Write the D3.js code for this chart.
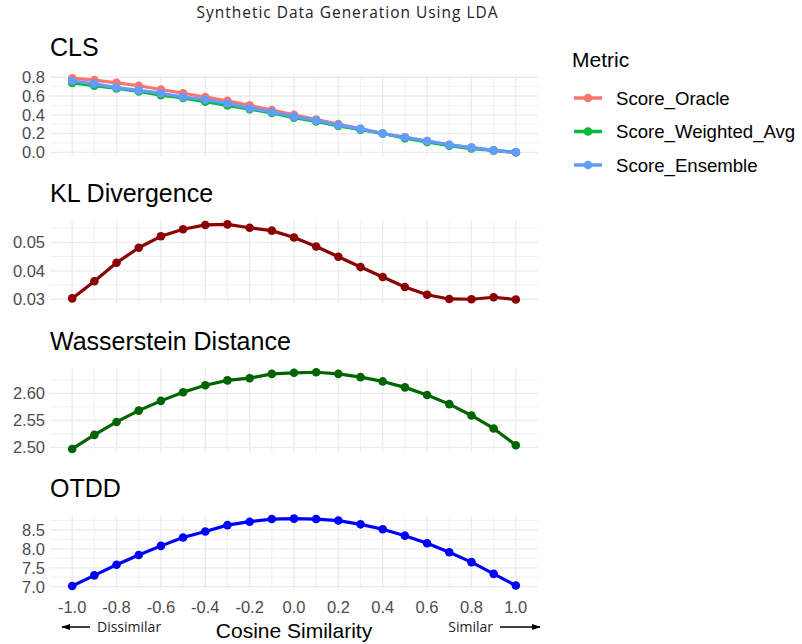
<!DOCTYPE html>
<html>
<head>
<meta charset="utf-8">
<script src="https://cdn.jsdelivr.net/npm/d3@7"></script>
<style>
  body { margin: 0; background: #fff; }
  svg { font-family: "Liberation Sans", Arial, sans-serif; }
</style>
</head>
<body>
<div id="vis"></div>
<script>
// frame
const WIDTH = 802;
const HEIGHT = 644;
const PLOT = {left: 50, right: 538};

// data
const cosine = [-1.0, -0.9, -0.8, -0.7, -0.6, -0.5, -0.4, -0.3, -0.2, -0.1, 0.0,
                0.1, 0.2, 0.3, 0.4, 0.5, 0.6, 0.7, 0.8, 0.9, 1.0];
const scoreOracle   = [0.79, 0.77, 0.74, 0.71, 0.67, 0.63, 0.59, 0.55, 0.50, 0.45, 0.40,
                       0.35, 0.30, 0.25, 0.20, 0.16, 0.12, 0.08, 0.05, 0.02, 0.00];
const scoreWeighted = [0.74, 0.71, 0.68, 0.65, 0.61, 0.58, 0.54, 0.50, 0.46, 0.42, 0.37,
                       0.33, 0.28, 0.24, 0.20, 0.15, 0.11, 0.07, 0.04, 0.02, 0.00];
const scoreEnsemble = [0.76, 0.73, 0.69, 0.66, 0.63, 0.59, 0.56, 0.52, 0.47, 0.43, 0.38,
                       0.34, 0.29, 0.25, 0.20, 0.16, 0.12, 0.08, 0.05, 0.02, 0.00];
const klDivergence = [0.0303, 0.0363, 0.0428, 0.0481, 0.0521, 0.0546, 0.0561, 0.0563, 0.0551, 0.0541, 0.0517,
                      0.0485, 0.0449, 0.0413, 0.0378, 0.0343, 0.0316, 0.0301, 0.0300, 0.0307, 0.0299];
const wasserstein = [2.497, 2.523, 2.547, 2.568, 2.586, 2.602, 2.615, 2.624, 2.628, 2.636, 2.638,
                     2.639, 2.636, 2.630, 2.622, 2.611, 2.597, 2.580, 2.559, 2.535, 2.504];
const otdd = [7.02, 7.30, 7.58, 7.84, 8.08, 8.30, 8.46, 8.63, 8.72, 8.79, 8.80,
              8.79, 8.75, 8.65, 8.52, 8.35, 8.15, 7.91, 7.65, 7.34, 7.03];

const xTicks = [-1.0, -0.8, -0.6, -0.4, -0.2, 0.0, 0.2, 0.4, 0.6, 0.8, 1.0];
const clsTicks = [0.0, 0.2, 0.4, 0.6, 0.8];
const klTicks = [0.03, 0.04, 0.05];
const wTicks = [2.50, 2.55, 2.60];
const otddTicks = [7.0, 7.5, 8.0, 8.5];
const metricNames = ["Score_Oracle", "Score_Weighted_Avg", "Score_Ensemble"];
const metricColors = ["#F8766D", "#00BA38", "#619CFF"];

const panels = [
  {title: "CLS", top: 74.5, bottom: 156, ticks: clsTicks, fmt: d3.format(".1f"),
   series: [{v: scoreOracle, c: metricColors[0]}, {v: scoreWeighted, c: metricColors[1]}, {v: scoreEnsemble, c: metricColors[2]}]},
  {title: "KL Divergence", top: 220.6, bottom: 303.3, ticks: klTicks, fmt: d3.format(".2f"),
   series: [{v: klDivergence, c: "#8B0000"}]},
  {title: "Wasserstein Distance", top: 368.4, bottom: 452.8, ticks: wTicks, fmt: d3.format(".2f"),
   series: [{v: wasserstein, c: "#006400"}]},
  {title: "OTDD", top: 515.3, bottom: 589.3, ticks: otddTicks, fmt: d3.format(".1f"),
   series: [{v: otdd, c: "#0000FF"}]}
];

const svg = d3.select("#vis")
  .append("svg")
    .attr("width", WIDTH)
    .attr("height", HEIGHT);

const x = d3.scaleLinear()
  .domain([-1.1, 1.1])
  .range([PLOT.left, PLOT.right]);

// minor x breaks sit halfway between majors
const xMinor = xTicks.slice(1).map((t, i) => (t + xTicks[i]) / 2);

const line = d3.line();

panels.forEach((p) => {
  const all = p.series.flatMap(s => s.v);
  const [lo, hi] = d3.extent(all);
  const pad = (hi - lo) * 0.05;
  const y = d3.scaleLinear()
    .domain([lo - pad, hi + pad])
    .range([p.bottom, p.top]);

  const step = p.ticks[1] - p.ticks[0];
  const yMinor = [p.ticks[0] - step / 2]
    .concat(p.ticks.map(t => t + step / 2))
    .filter(v => v >= y.domain()[0] && v <= y.domain()[1]);

  const g = svg.append("g");

  // grid
  g.selectAll(".ymin").data(yMinor).enter().append("line")
    .attr("x1", PLOT.left).attr("x2", PLOT.right)
    .attr("y1", d => y(d)).attr("y2", d => y(d))
    .attr("stroke", "#ebebeb").attr("stroke-width", 0.7);
  g.selectAll(".xmin").data(xMinor).enter().append("line")
    .attr("x1", d => x(d)).attr("x2", d => x(d))
    .attr("y1", p.top).attr("y2", p.bottom)
    .attr("stroke", "#ebebeb").attr("stroke-width", 0.7);
  g.selectAll(".ymaj").data(p.ticks).enter().append("line")
    .attr("x1", PLOT.left).attr("x2", PLOT.right)
    .attr("y1", d => y(d)).attr("y2", d => y(d))
    .attr("stroke", "#ebebeb").attr("stroke-width", 1.3);
  g.selectAll(".xmaj").data(xTicks).enter().append("line")
    .attr("x1", d => x(d)).attr("x2", d => x(d))
    .attr("y1", p.top).attr("y2", p.bottom)
    .attr("stroke", "#ebebeb").attr("stroke-width", 1.3);

  // y axis labels
  g.selectAll(".ylab").data(p.ticks).enter().append("text")
    .attr("x", 45).attr("y", d => y(d)).attr("dy", "0.36em")
    .attr("text-anchor", "end")
    .attr("font-size", 16.5).attr("fill", "#4d4d4d")
    .text(d => p.fmt(d));

  // title
  g.append("text")
    .attr("x", 50).attr("y", p.top - 18.5)
    .attr("font-size", 25).attr("fill", "#000")
    .text(p.title);

  // series
  p.series.forEach((s) => {
    const pts = cosine.map((c, i) => [x(c), y(s.v[i])]);
    g.append("path")
      .attr("d", line(pts))
      .attr("fill", "none")
      .attr("stroke", s.c)
      .attr("stroke-width", 3.2)
      .attr("stroke-linejoin", "round");
    g.selectAll(null).data(pts).enter().append("circle")
      .attr("cx", d => d[0]).attr("cy", d => d[1])
      .attr("r", 4.3)
      .attr("fill", s.c);
  });
});

// x axis labels under the last panel
svg.selectAll(".xlab").data(xTicks).enter().append("text")
  .attr("x", d => x(d)).attr("y", 612.5)
  .attr("text-anchor", "middle")
  .attr("font-size", 16.5).attr("fill", "#4d4d4d")
  .text(d => d3.format(".1f")(d).replace("\u2212", "-"));

svg.append("text")
  .attr("x", (PLOT.left + PLOT.right) / 2).attr("y", 638)
  .attr("text-anchor", "middle")
  .attr("font-size", 21).attr("fill", "#000")
  .text("Cosine Similarity");

// direction hints
const arrow = svg.append("defs").append("marker")
  .attr("id", "arr").attr("viewBox", "0 0 10 10")
  .attr("refX", 9).attr("refY", 5)
  .attr("markerWidth", 6).attr("markerHeight", 6)
  .attr("orient", "auto-start-reverse");
arrow.append("path").attr("d", "M0,1.5 L10,5 L0,8.5 z").attr("fill", "#000");

svg.append("line")
  .attr("x1", 90).attr("x2", 62).attr("y1", 627).attr("y2", 627)
  .attr("stroke", "#000").attr("stroke-width", 1.5).attr("marker-end", "url(#arr)");
svg.append("text")
  .attr("x", 97).attr("y", 632)
  .attr("font-family", "'Open Sans', sans-serif")
  .attr("font-size", 14).attr("fill", "#222")
  .text("Dissimilar");
svg.append("text")
  .attr("x", 493).attr("y", 632).attr("text-anchor", "end")
  .attr("font-family", "'Open Sans', sans-serif")
  .attr("font-size", 14).attr("fill", "#222")
  .text("Similar");
svg.append("line")
  .attr("x1", 500).attr("x2", 540).attr("y1", 627).attr("y2", 627)
  .attr("stroke", "#000").attr("stroke-width", 1.5).attr("marker-end", "url(#arr)");

// main title
svg.append("text")
  .attr("x", 347).attr("y", 18).attr("text-anchor", "middle")
  .attr("font-family", "'Open Sans', sans-serif")
  .attr("font-size", 15.5).attr("fill", "#222")
  .attr("textLength", 301).attr("lengthAdjust", "spacing")
  .text("Synthetic Data Generation Using LDA");

// legend
const legend = svg.append("g");
legend.append("text")
  .attr("x", 572).attr("y", 67)
  .attr("font-size", 21).attr("fill", "#000")
  .text("Metric");
const items = legend.selectAll(".item").data(metricNames).enter().append("g")
  .attr("transform", (d, i) => "translate(0," + (98 + i * 33.5) + ")");
items.append("line")
  .attr("x1", 574).attr("x2", 602).attr("y1", 0).attr("y2", 0)
  .attr("stroke", (d, i) => metricColors[i]).attr("stroke-width", 3.5);
items.append("circle")
  .attr("cx", 588).attr("cy", 0).attr("r", 4.3)
  .attr("fill", (d, i) => metricColors[i]);
items.append("text")
  .attr("x", 616).attr("y", 0).attr("dy", "0.36em")
  .attr("font-size", 18.6).attr("fill", "#000")
  .text(d => d);
</script>
</body>
</html>
